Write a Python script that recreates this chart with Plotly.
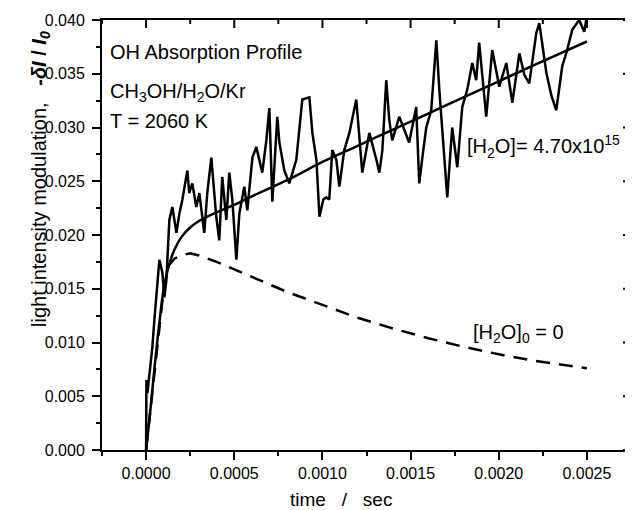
import plotly.graph_objects as go

# ---- measured OH absorption trace (time s, -dI/I0) ----
t_data = [0.0, 0.000002, 0.0000074, 0.0000357, 0.000047, 0.0000754, 0.0000924, 0.000104, 0.000115,
          0.000132, 0.000149, 0.000172, 0.000189, 0.000206, 0.000234, 0.000245, 0.000262, 0.000285,
          0.000302, 0.000330, 0.000347, 0.000370, 0.000398, 0.000415, 0.000432, 0.000455, 0.000472,
          0.000489, 0.000512, 0.000529, 0.000557, 0.000574, 0.000603, 0.000625, 0.000659, 0.000682,
          0.000699, 0.000716, 0.000744, 0.000756, 0.000784, 0.000812, 0.000852, 0.000886, 0.000926,
          0.000943, 0.000966, 0.000983, 0.001005, 0.001022, 0.001039, 0.001056, 0.001079, 0.001096,
          0.001124, 0.001153, 0.001192, 0.001226, 0.001249, 0.001266, 0.001306, 0.001323, 0.001340,
          0.001362, 0.001379, 0.001396, 0.001436, 0.001464, 0.001492, 0.001532, 0.001549, 0.001572,
          0.001589, 0.001617, 0.001646, 0.001663, 0.001680, 0.001708, 0.001736, 0.001765, 0.001793,
          0.001821, 0.001850, 0.001872, 0.001889, 0.001929, 0.001963, 0.002003, 0.002043, 0.002077,
          0.002117, 0.002145, 0.002173, 0.002213, 0.002230, 0.002270, 0.002298, 0.002326, 0.002360,
          0.002388, 0.002417, 0.002456, 0.002485, 0.002496]
y_data = [0.0, 0.0065, 0.0053, 0.0096, 0.0121, 0.0177, 0.0165, 0.0142, 0.0158,
          0.0214, 0.0226, 0.0202, 0.0220, 0.0233, 0.0260, 0.0239, 0.0248, 0.0226,
          0.0239, 0.0202, 0.0239, 0.0272, 0.0217, 0.0195, 0.0254, 0.0214, 0.0258,
          0.0233, 0.0177, 0.0220, 0.0245, 0.0223, 0.0272, 0.0282, 0.0258, 0.0288,
          0.0318, 0.0231, 0.0310, 0.0286, 0.0260, 0.0248, 0.0270, 0.0326, 0.0328,
          0.0295, 0.0270, 0.0217, 0.0233, 0.0235, 0.0233, 0.0279, 0.0270, 0.0245,
          0.0279, 0.0295, 0.0326, 0.0258, 0.0279, 0.0295, 0.0270, 0.0258, 0.0279,
          0.0344, 0.0307, 0.0288, 0.0310, 0.0298, 0.0286, 0.0319, 0.0248, 0.0279,
          0.0300, 0.0316, 0.0381, 0.0335, 0.0300, 0.0235, 0.0300, 0.0263, 0.0319,
          0.0335, 0.0360, 0.0344, 0.0379, 0.0310, 0.0372, 0.0338, 0.0360, 0.0323,
          0.0369, 0.0349, 0.0341, 0.0388, 0.0397, 0.0351, 0.0330, 0.0316, 0.0357,
          0.0372, 0.0391, 0.0400, 0.0389, 0.0400]

# ---- model with [H2O] = 4.70e15 (solid) ----
t_fit = [0.0, 0.00002, 0.00005, 0.00008, 0.00010, 0.00013, 0.00016, 0.00020, 0.00025, 0.00030,
         0.00040, 0.00050, 0.00060, 0.00080, 0.00100, 0.00120, 0.00140, 0.00160, 0.00180,
         0.00200, 0.00220, 0.00250]
y_fit = [0.0, 0.0030, 0.0080, 0.0125, 0.0150, 0.0172, 0.0186, 0.0198, 0.0207, 0.0213,
         0.0221, 0.0228, 0.0236, 0.0251, 0.0268, 0.0283, 0.0298, 0.0313, 0.0328,
         0.0343, 0.0358, 0.0380]

# ---- model with [H2O]0 = 0 (dashed) ----
t_zero = [0.0, 0.00002, 0.00005, 0.00008, 0.00010, 0.00013, 0.00016, 0.00020, 0.00025, 0.00030,
          0.00040, 0.00050, 0.00060, 0.00080, 0.00100, 0.00120, 0.00140, 0.00160, 0.00180,
          0.00200, 0.00220, 0.00250]
y_zero = [0.0, 0.0030, 0.0080, 0.0125, 0.0150, 0.0172, 0.0178, 0.0181, 0.0183, 0.0181,
          0.0175, 0.0168, 0.0161, 0.0147, 0.0135, 0.0123, 0.0113, 0.0104, 0.0096,
          0.0089, 0.0083, 0.0076]

x_range = [-0.00025, 0.00275]
y_range = [0.0, 0.040]
x_ticks = [0.0, 0.0005, 0.0010, 0.0015, 0.0020, 0.0025]
x_tick_labels = ["0.0000", "0.0005", "0.0010", "0.0015", "0.0020", "0.0025"]
x_minor = [-0.00025, 0.00025, 0.00075, 0.00125, 0.00175, 0.00225, 0.00275]
y_ticks = [0.000, 0.005, 0.010, 0.015, 0.020, 0.025, 0.030, 0.035, 0.040]
y_tick_labels = ["0.000", "0.005", "0.010", "0.015", "0.020", "0.025", "0.030", "0.035", "0.040"]
y_minor = [0.0025, 0.0075, 0.0125, 0.0175, 0.0225, 0.0275, 0.0325, 0.0375]

FONT = "Liberation Sans, Arial, sans-serif"

# page body has an 8px default margin: figure is 625x502 placed at (8, 8)
W, H = 625, 502
PL, PR, PT, PB = 94, 623, 12, 442   # plot area in figure pixels
PW, PH = PR - PL, PB - PT
MAJ, MIN = 8, 4  # tick lengths in px


def px(xp):   # page x pixel -> paper x
    return (xp - 8 - PL) / PW


def py(yp):   # page y pixel -> paper y
    return (PB - (yp - 8)) / PH


fig = go.Figure()
fig.add_trace(go.Scatter(x=t_zero, y=y_zero, mode="lines",
                         line=dict(color="black", width=2.5, dash="14px,9px"), showlegend=False))
fig.add_trace(go.Scatter(x=t_data, y=y_data, mode="lines",
                         line=dict(color="black", width=2.5), showlegend=False))
fig.add_trace(go.Scatter(x=t_fit, y=y_fit, mode="lines",
                         line=dict(color="black", width=2.5, shape="spline"), showlegend=False))

axis_common = dict(showline=True, mirror=True, linecolor="black", linewidth=2, showgrid=False, zeroline=False,
                   tickcolor="black", tickwidth=2, automargin=False)

fig.update_layout(
    width=W, height=H,
    margin=dict(l=PL, r=W - PR, t=PT, b=H - PB, autoexpand=False),
    paper_bgcolor="white", plot_bgcolor="white",
    font=dict(family=FONT, color="black", size=16),
    xaxis=dict(range=x_range, tickmode="array", tickvals=x_ticks, ticktext=x_tick_labels,
               ticks="outside", ticklen=MAJ, tickfont=dict(size=16),
               minor=dict(ticks="outside", ticklen=MIN, tickvals=x_minor, tickwidth=2, tickcolor="black"),
               **axis_common),
    yaxis=dict(range=y_range, tickmode="array", tickvals=y_ticks, ticktext=y_tick_labels,
               ticks="outside", ticklen=MAJ, tickfont=dict(size=16), ticklabelstandoff=4,
               minor=dict(ticks="outside", ticklen=MIN, tickvals=y_minor, tickwidth=2, tickcolor="black"),
               **axis_common),
)

# inward ticks on the top and right frame edges (x in data units, length in paper units)
for vals, ln in ((x_ticks, MAJ), (x_minor, MIN)):
    for v in vals:
        fig.add_shape(type="line", xref="x", yref="paper", x0=v, x1=v, y0=1, y1=1 - ln / PH,
                      line=dict(color="black", width=2))
for vals, ln in ((y_ticks, MAJ), (y_minor, MIN)):
    for v in vals:
        fig.add_shape(type="line", xref="paper", yref="y", x0=1, x1=1 - ln / PW, y0=v, y1=v,
                      line=dict(color="black", width=2))

nb = "\u00a0"
annos = [
    dict(text="OH Absorption Profile", x=px(108), y=py(52), size=20),
    dict(text="CH<sub>3</sub>OH/H<sub>2</sub>O/Kr", x=px(108), y=py(92), size=20),
    dict(text="T = 2060 K", x=px(108), y=py(121), size=20),
    dict(text="[H<sub>2</sub>O]= 4.70x10<sup>15</sup>", x=px(465), y=py(146), size=20),
    dict(text="[H<sub>2</sub>O]<sub>0</sub> = 0", x=px(471), y=py(333), size=20),
]
for a in annos:
    fig.add_annotation(text=a["text"], x=a["x"], y=a["y"], xref="paper", yref="paper",
                       xanchor="left", yanchor="middle", showarrow=False,
                       font=dict(family=FONT, size=a["size"], color="black"))

fig.add_annotation(text="time" + nb * 3 + "/" + nb * 3 + "sec", x=px(341), y=py(499),
                   xref="paper", yref="paper", xanchor="center", yanchor="middle", showarrow=False,
                   font=dict(family=FONT, size=19, color="black"))
fig.add_annotation(text="light intensity modulation," + nb * 3 + "<b><i>-δI</i></b>" + nb + "<b>/</b>" + nb +
                        "<b><i>I<sub>0</sub></i></b>",
                   x=px(41), y=py(179), textangle=-90,
                   xref="paper", yref="paper", xanchor="center", yanchor="middle", showarrow=False,
                   font=dict(family=FONT, size=20, color="black"))

# keep the 8px body margin but stop the page from showing scrollbars
fig.write_html("out.html",
               post_script="document.documentElement.style.overflow='hidden';"
                           "document.body.style.overflow='hidden';")
